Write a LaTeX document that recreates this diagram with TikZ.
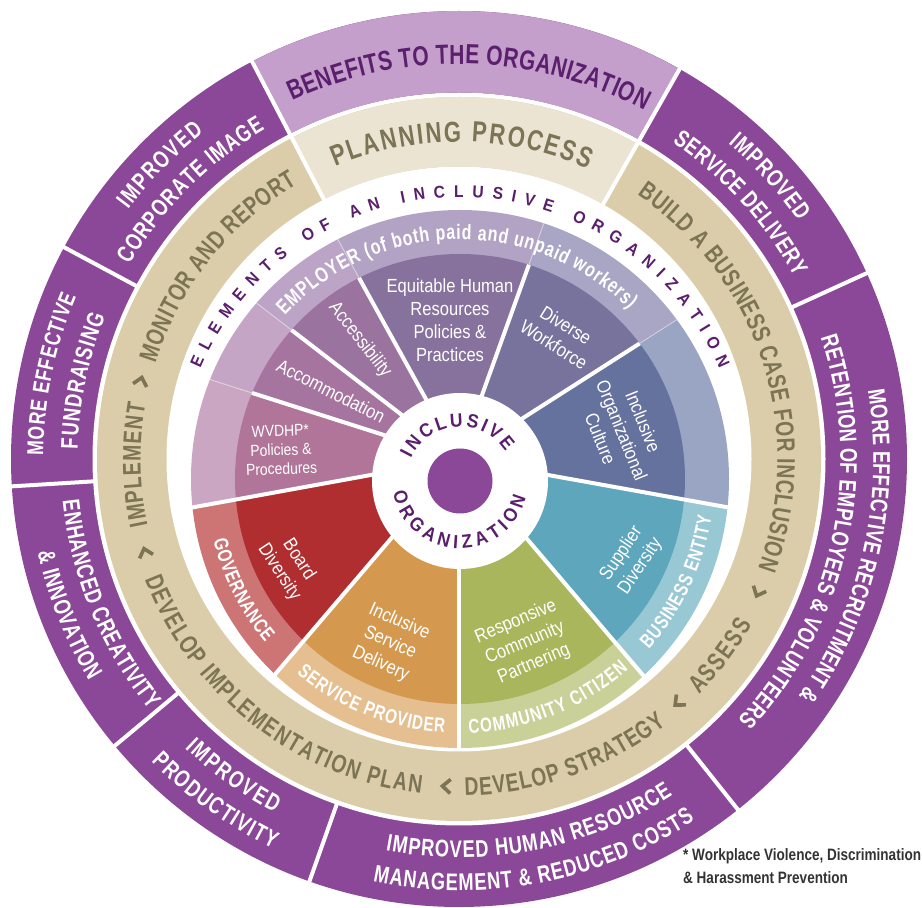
\documentclass[tikz,border=0pt]{standalone}
\usepackage{fontspec}
\setmainfont{Liberation Sans}
\newfontfamily\condfont[FakeStretch=0.76]{Liberation Sans}
\newfontfamily\notefont[FakeStretch=0.82]{Liberation Sans}
\newfontfamily\segfontfam[FakeStretch=0.87]{Liberation Sans}
\newfontfamily\widefont[FakeStretch=0.92]{Liberation Sans}
\usetikzlibrary{calc,decorations.text}

\definecolor{purpleOuter}{HTML}{8B4798}
\definecolor{benefitsBand}{HTML}{C49FCB}
\definecolor{benefitsText}{HTML}{5B1F6E}
\definecolor{tanRing}{HTML}{DBCDA9}
\definecolor{planBand}{HTML}{ECE4D3}
\definecolor{tanText}{HTML}{7C7455}
\definecolor{darkText}{HTML}{5A1E6C}
\definecolor{noteText}{HTML}{333333}
\definecolor{wvD}{HTML}{B07598}\definecolor{wvB}{HTML}{CBA6C3}
\definecolor{acD}{HTML}{A5759F}\definecolor{acB}{HTML}{C5A5C6}
\definecolor{asD}{HTML}{9A739F}\definecolor{asB}{HTML}{BBA4C6}
\definecolor{eqD}{HTML}{87719D}\definecolor{eqB}{HTML}{B2A3C4}
\definecolor{dvD}{HTML}{78739D}\definecolor{dvB}{HTML}{A9A5C4}
\definecolor{cuD}{HTML}{65729E}\definecolor{cuB}{HTML}{9AA4C3}
\definecolor{goD}{HTML}{B02E30}\definecolor{goB}{HTML}{CD7575}
\definecolor{svD}{HTML}{D4994F}\definecolor{svB}{HTML}{E6BF91}
\definecolor{cmD}{HTML}{AAB65B}\definecolor{cmB}{HTML}{C9D199}
\definecolor{spD}{HTML}{5EA6BC}\definecolor{spB}{HTML}{99C8D5}

% fonts for the curved labels
\def\fBen{\condfont\bfseries\fontsize{27.6}{27.6}\selectfont}
\def\fOut{\condfont\bfseries\fontsize{24}{24}\selectfont}
\def\fOutM{\condfont\bfseries\fontsize{23}{23}\selectfont}
\def\fTan{\condfont\bfseries\fontsize{25.5}{25.5}\selectfont}
\def\fPlan{\condfont\bfseries\fontsize{29}{29}\selectfont}
\def\fElem{\widefont\bfseries\fontsize{17}{17}\selectfont}
\def\fEmp{\condfont\bfseries\fontsize{21}{21}\selectfont}
\def\fGrp{\condfont\bfseries\fontsize{20}{20}\selectfont}
\def\fCen{\widefont\bfseries\fontsize{19}{19}\selectfont}

% text along an arc: centre, radius, start, end, format, colour, text
\newcommand\arcwords[7]{%
  \path[decorate,decoration={text along path,text align={fit to path},
      text color=#6,text={|#5|#7}}]
    (#1) ++(#3:#2pt) arc[start angle=#3,end angle=#4,radius=#2pt];}

% filled ring sector: centre, inner r, outer r, start, end, colour
\newcommand\ringsector[6]{%
  \fill[#6] (#1) ++(#4:#3pt) arc[start angle=#4,end angle=#5,radius=#3pt]
    -- ($(#1)+(#5:#2pt)$) arc[start angle=#5,end angle=#4,radius=#2pt] -- cycle;}

\tikzset{
  seg/.style={text=white,align=center,inner sep=0pt,
    font=\segfontfam\fontsize{19}{23}\selectfont},
  chev/.style={draw=tanText,line width=3.6pt,line join=miter,line cap=butt},
  sep/.style={draw=white,line width=4pt},
}

\begin{document}
\begin{tikzpicture}[x=1pt,y=1pt]
\useasboundingbox (0,0) rectangle (922,908);
\fill[white] (0,0) rectangle (922,908);

\coordinate (C0) at (459,449);
\coordinate (C1) at (460,429);
\coordinate (C2) at (460,427);

% ---- outer ring: benefits
\fill[purpleOuter] (C0) circle[radius=448pt];
\fill[white] (C0) circle[radius=366.5pt];
\ringsector{C0}{366.5}{448}{60.5}{117.5}{benefitsBand}
\foreach \a in {24.5,60.5,117.5,151.8,183.5,219.8,250.5,308.5}
  \draw[sep] ($(C0)+(\a:362pt)$) -- ($(C0)+(\a:452pt)$);

% ---- planning process ring
\fill[tanRing] (C0) circle[radius=362pt];
\fill[white] (C0) circle[radius=292.5pt];
\ringsector{C0}{292.5}{362}{60.5}{117.5}{planBand}
\foreach \a in {60.5,117.5}
  \draw[sep] ($(C0)+(\a:290pt)$) -- ($(C0)+(\a:364pt)$);

% ---- elements wheel
\foreach \a/\b/\dk/\bd in {229.5/270/svD/svB, 270/310.4/cmD/cmB,
    310.4/349.8/spD/spB, 349.8/392.6/cuD/cuB, 32.6/70.2/dvD/dvB,
    70.2/118.9/eqD/eqB, 118.9/142.4/asD/asB, 142.4/162.3/acD/acB,
    162.3/190.3/wvD/wvB, 190.3/229.5/goD/goB}{
  \begin{scope}
    \clip (C0) -- ++(\a:420pt) arc[start angle=\a,end angle=\b,radius=420pt] -- cycle;
    \fill[\bd] (C1) circle[radius=269pt];
    \fill[\dk] (C1) circle[radius=225pt];
  \end{scope}}
\begin{scope}
  \clip (C1) circle[radius=269pt];
  \foreach \a in {32.6,70.2,118.9,142.4,162.3}
    \draw[white,opacity=0.4,line width=1pt] (C0) -- ++(\a:320pt);
\end{scope}
\begin{scope}
  \clip (C1) circle[radius=225pt];
  \foreach \a in {32.6,70.2,118.9,142.4,162.3}
    \draw[sep] (C0) -- ++(\a:320pt);
\end{scope}
\begin{scope}
  \clip (C1) circle[radius=270pt];
  \foreach \a in {190.3,229.5,270,310.4,349.8}
    \draw[sep] (C0) -- ++(\a:320pt);
\end{scope}

% ---- hub
\fill[white] (C2) circle[radius=88pt];
\fill[purpleOuter] (C2) circle[radius=32.5pt];

% ---- outer ring labels
\arcwords{C0}{395}{115}{62}{\fBen}{benefitsText}{BENEFITS TO THE ORGANIZATION}
\arcwords{C0}{414.4}{143}{128}{\fOut}{white}{IMPROVED}
\arcwords{C0}{382.4}{149.5}{120.5}{\fOut}{white}{CORPORATE IMAGE}
\arcwords{C0}{415.8}{179.5}{157}{\fOutM}{white}{MORE EFFECTIVE}
\arcwords{C0}{381.4}{178.5}{158}{\fOut}{white}{FUNDRAISING}
\arcwords{C0}{398.6}{186}{219}{\fOut}{white}{ENHANCED CREATIVITY}
\arcwords{C0}{431.6}{192.5}{211}{\fOut}{white}{{\&} INNOVATION}
\arcwords{C0}{398.6}{226.5}{242.5}{\fOut}{white}{IMPROVED}
\arcwords{C0}{431.6}{224.5}{244.5}{\fOut}{white}{PRODUCTIVITY}
\arcwords{C0}{398.6}{259.4}{302.4}{\fOut}{white}{IMPROVED HUMAN RESOURCE}
\arcwords{C0}{431.6}{258.5}{303.1}{\fOut}{white}{MANAGEMENT {\&} REDUCED COSTS}
\arcwords{C0}{414.4}{9.5}{-35}{\fOut}{white}{MORE EFFECTIVE RECRUITMENT {\&}}
\arcwords{C0}{381.4}{18.5}{-43}{\fOut}{white}{RETENTION OF EMPLOYEES {\&} VOLUNTEERS}
\arcwords{C0}{414.4}{49.5}{35}{\fOut}{white}{IMPROVED}
\arcwords{C0}{381.4}{56}{28.5}{\fOut}{white}{SERVICE DELIVERY}

% ---- planning process labels
\arcwords{C0}{317.2}{113}{66}{\fPlan}{tanText}{PLANNING PROCESS}
\arcwords{C0}{318.4}{162.5}{120.5}{\fTan}{tanText}{MONITOR AND REPORT}
\arcwords{C0}{318.4}{192}{170}{\fTan}{tanText}{IMPLEMENT}
\arcwords{C0}{336.6}{201}{263.5}{\fTan}{tanText}{DEVELOP IMPLEMENTATION PLAN}
\arcwords{C0}{336.6}{271}{308}{\fTan}{tanText}{DEVELOP STRATEGY}
\arcwords{C0}{336.6}{315.5}{330.5}{\fTan}{tanText}{ASSESS}
\arcwords{C0}{318.4}{56}{-20}{\fTan}{tanText}{BUILD A BUSINESS CASE FOR INCLUSION}
\foreach \t in {166.3,196.6,267.8,312,336}
  \draw[chev,shift={($(C0)+(\t:327.5pt)$)},rotate=\t-90]
    (-4pt,7pt) -- (4pt,0pt) -- (-4pt,-7pt);

% ---- element labels
\arcwords{C1}{281.9}{157}{23}{\fElem}{darkText}{ELEMENTS OF AN INCLUSIVE ORGANIZATION}
\arcwords{C1}{239.5}{137}{45}{\fEmp}{white}{EMPLOYER (of both paid and unpaid workers)}
\arcwords{C1}{254.2}{194}{220}{\fGrp}{white}{GOVERNANCE}
\arcwords{C1}{254.2}{230}{266.5}{\fGrp}{white}{SERVICE PROVIDER}
\arcwords{C1}{254.2}{272}{311.5}{\fGrp}{white}{COMMUNITY CITIZEN}
\arcwords{C1}{254.2}{318}{351.5}{\fGrp}{white}{BUSINESS ENTITY}
\arcwords{C2}{54.2}{155}{33}{\fCen}{darkText}{INCLUSIVE}
\arcwords{C2}{67.8}{190}{346}{\fCen}{darkText}{ORGANIZATION}

\node[seg] (tEquit) at (450,588) {Equitable Human\\Resources\\Policies \&\\Practices};
\node[seg,rotate=-32] (tDiverse) at (560,573) {Diverse\\Workforce};
\node[seg,rotate=-68] (tCulture) at (622,478) {Inclusive\\Organizational\\Culture};
\node[seg,rotate=56] (tSupplier) at (631,348) {Supplier\\Diversity};
\node[seg,rotate=23] (tCommunity) at (525,265) {Responsive\\Community\\Partnering};
\node[seg,rotate=-24] (tService) at (390,265) {Inclusive\\Service\\Delivery};
\node[seg,rotate=-57] (tBoard) at (289,342) {Board\\Diversity};
\node[seg,rotate=2,font=\segfontfam\fontsize{16}{19}\selectfont] (tWvdhp) at (281,458) {WVDHP*\\Policies \&\\Procedures};
\node[seg,rotate=-27] (tAccom) at (331,517) {Accommodation};
\node[seg,rotate=-52] (tAccess) at (360,568) {Accessibility};

% ---- footnote
\node[anchor=base west,inner sep=0pt,text=noteText,
  font=\notefont\bfseries\fontsize{16.5}{23}\selectfont,align=left]
  (note) at (683,24) {* Workplace Violence, Discrimination\\\& Harassment Prevention};
\end{tikzpicture}
\end{document}
